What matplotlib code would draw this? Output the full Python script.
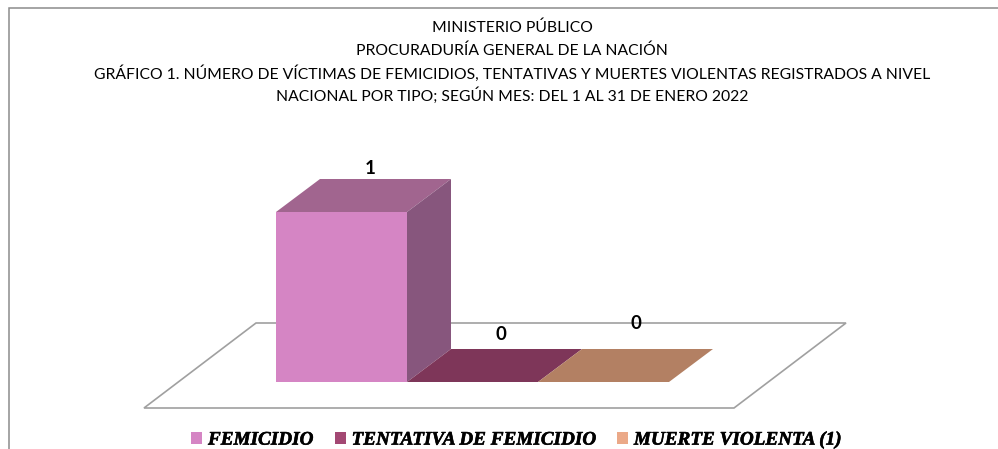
import matplotlib
matplotlib.use("Agg")
import matplotlib.pyplot as plt
import matplotlib.patheffects as pe
from matplotlib.patches import Patch, Polygon

categories = ["FEMICIDIO", "TENTATIVA DE FEMICIDIO", "MUERTE VIOLENTA (1)"]
values = [1, 0, 0]
front_colors = ["#D585C4", "#A34873", "#EBA988"]
top_colors = ["#A1658F", "#7E3659", "#B38063"]
side_colors = ["#87567D", "#7E3659", "#B38063"]
title_lines = [
    "MINISTERIO PÚBLICO",
    "PROCURADURÍA GENERAL DE LA NACIÓN",
    "GRÁFICO 1. NÚMERO DE VÍCTIMAS DE FEMICIDIOS, TENTATIVAS Y MUERTES VIOLENTAS REGISTRADOS A NIVEL",
    "NACIONAL POR TIPO; SEGÚN MES: DEL 1 AL 31 DE ENERO 2022",
]

W, H = 998, 449
fig = plt.figure(figsize=(W / 100, H / 100), dpi=100, facecolor="white")
ax = fig.add_axes([0, 0, 1, 1])

UX, UY = 131.0, 170.0          # pixels per category / per unit of value
X0, Y0 = 341.5, 382.0          # pixel position of category 0, value 0
ax.set_xlim((0 - X0) / UX, (W - X0) / UX)
ax.set_ylim((Y0 - H) / UY, Y0 / UY)
ax.axis("off")
DX, DY = 44 / UX, 33 / UY      # 3-D depth offset


def px(x, y):
    return ((x - X0) / UX, (Y0 - y) / UY)


# outer chart border (only left and top are visible in the crop)
ax.plot(*zip(px(9, 452), px(9, 7.5), px(1000, 7.5)),
        color="#8C8C8C", lw=1.1, zorder=1, solid_joinstyle="miter")

# floor
floor = [px(144, 408), px(734, 408), px(846, 323), px(256, 323)]
ax.add_patch(Polygon(floor, closed=True, fc="white", ec="#A0A0A0", lw=1.2, zorder=1))

# bars
ax.bar(range(len(values)), values, width=1.0, color=front_colors, lw=0, zorder=4)
for i, v in enumerate(values):
    l, r = i - 0.5, i + 0.5
    ax.add_patch(Polygon([(l, v), (r, v), (r + DX, v + DY), (l + DX, v + DY)],
                         fc=top_colors[i], ec="none", zorder=3))
    if v > 0:
        ax.add_patch(Polygon([(r, 0), (r + DX, DY), (r + DX, v + DY), (r, v)],
                             fc=side_colors[i], ec="none", zorder=3))

# value labels
label_shift = [(28.5, 214), (28.5, 47.5), (32.5, 58.5)]
for i, v in enumerate(values):
    sx, sy = label_shift[i]
    ax.annotate(str(v), xy=(i, 0), xytext=(sx * 0.72, sy * 0.72),
                textcoords="offset points", ha="center", va="center",
                fontsize=13.5, fontweight="bold", family="Lato", color="black", zorder=6)

# title
for line, y in zip(title_lines, [28, 51, 74, 96]):
    ax.text(*px(512, y), line, ha="center", va="center",
            fontsize=11.35, family="Lato", color="black", zorder=6)

# legend
handles = [Patch(fc=c, ec="none", label=n) for c, n in zip(front_colors, categories)]
leg = ax.legend(handles=handles, ncol=3, loc="center", bbox_to_anchor=(516 / W, 1 - 440 / H),
                frameon=False, handlelength=0.58, handleheight=0.58, handletextpad=0.3,
                columnspacing=1.12, borderpad=0, borderaxespad=0,
                prop={"family": "Liberation Serif", "weight": "bold", "style": "italic", "size": 13.8})
for t in leg.get_texts():
    t.set_path_effects([pe.withStroke(linewidth=0.4, foreground="black")])

fig.savefig("out.png", dpi=100)
